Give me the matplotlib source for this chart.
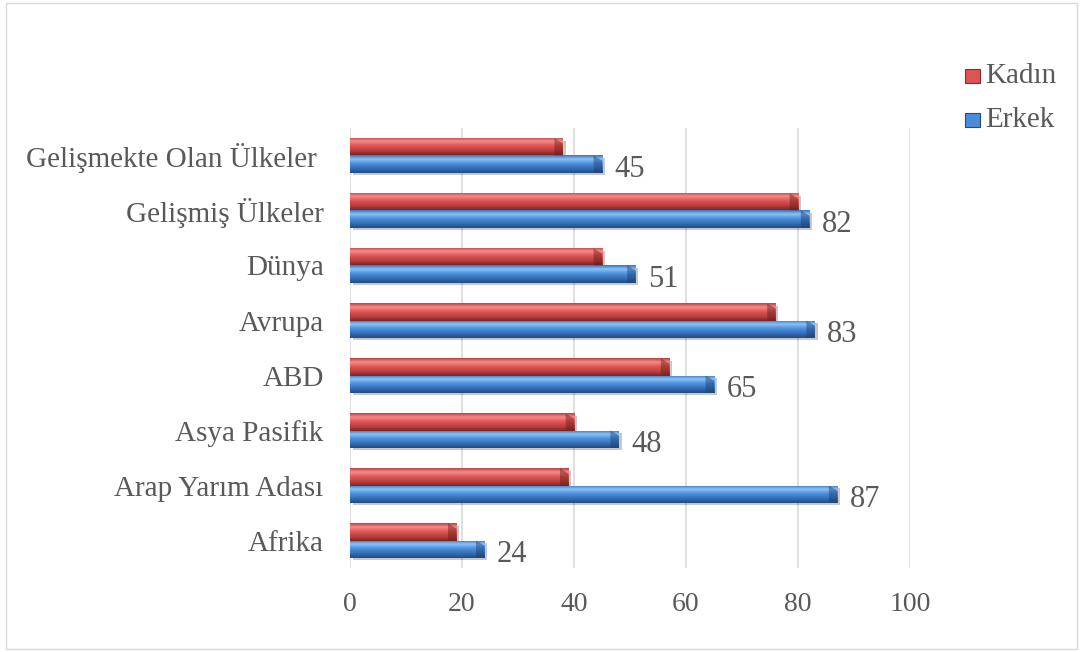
#!/usr/bin/env python3
import numpy as np
import matplotlib
matplotlib.use("Agg")
import matplotlib.pyplot as plt
import matplotlib.patheffects as pe
from matplotlib.colors import LinearSegmentedColormap
from matplotlib.patches import Rectangle, Polygon

# Bolgelere gore oranlar (asagidan yukariya)
categories = ["Afrika", "Arap Yarım Adası", "Asya Pasifik", "ABD", "Avrupa",
              "Dünya", "Gelişmiş Ülkeler", "Gelişmekte Olan Ülkeler "]
erkek = [24, 87, 48, 65, 83, 51, 82, 45]
kadin = [19, 39, 40, 57, 76, 45, 80, 38]
xticks = [0, 20, 40, 60, 80, 100]
series_names = ["Kadın", "Erkek"]

plt.rcParams["font.family"] = ["Liberation Serif", "DejaVu Serif"]
text_color = "#595959"

# top -> bottom shading of the cylinder-like bars
red_cmap = LinearSegmentedColormap.from_list(
    "red3d", [(0, "#b94341"), (0.22, "#f58c8a"), (0.45, "#e25a58"),
              (0.8, "#b13a38"), (1, "#7e2422")])
blue_cmap = LinearSegmentedColormap.from_list(
    "blue3d", [(0, "#3a75bd"), (0.22, "#8cc2f5"), (0.45, "#4f93e0"),
               (0.8, "#2f66ad"), (1, "#234c82")])
grad = np.linspace(0, 1, 64).reshape(-1, 1)


def draw_bars(ax, ys, values, cmap, base, dark, h):
    bars = ax.barh(ys, values, height=h, color=base, linewidth=0, zorder=2,
                   path_effects=[pe.SimplePatchShadow(offset=(2, -2), alpha=0.25),
                                 pe.Normal()])
    for bar, y, v in zip(bars, ys, values):
        im = ax.imshow(grad, cmap=cmap, aspect="auto", origin="upper",
                       extent=[0, v, y - h / 2, y + h / 2], zorder=3)
        im.set_clip_path(bar)
        # bevelled right end
        b = 1.5
        ax.add_patch(Polygon([[v - b, y + h / 2], [v, y + h * 0.2],
                              [v, y - h / 2], [v - b, y - h / 2]],
                             closed=True, facecolor=dark, alpha=0.45,
                             linewidth=0, zorder=4))
    return bars


fig = plt.figure(figsize=(10.83, 6.52), dpi=100)
ax = fig.add_axes([0.3232, 0.1288, 0.5171, 0.6749])

y = np.arange(len(categories))
h = 0.31
draw_bars(ax, y + h / 2, kadin, red_cmap, "#d9504e", "#6a1a18", h)
draw_bars(ax, y - h / 2, erkek, blue_cmap, "#4a8ad8", "#1a3d6e", h)

for yi, v in zip(y - h / 2, erkek):
    ax.text(v + 2.2, yi - 0.1, str(v), va="center", ha="left",
            fontsize=22, color=text_color)

ax.set_xlim(0, 100)
ax.set_ylim(-0.5, len(categories) - 0.5)
ax.set_xticks(xticks)
ax.set_yticks(y)
ax.set_yticklabels(categories)
ax.tick_params(axis="both", length=0, labelsize=21, labelcolor=text_color)
ax.tick_params(axis="x", labelsize=20, pad=17)
ax.tick_params(axis="y", pad=19)
ax.grid(axis="x", color="#d9d9d9", linewidth=1.2, zorder=0)
ax.set_axisbelow(True)
for s in ax.spines.values():
    s.set_visible(False)

# legend drawn by hand, squares with a light-to-dark fill
legend_items = [(series_names[0], red_cmap, "#8e2a28", 0.883),
                (series_names[1], blue_cmap, "#234c82", 0.816)]
for name, cmap, edge, fy in legend_items:
    sq = Rectangle((0.891, fy - 0.0107), 0.0135, 0.0215,
                   transform=fig.transFigure, facecolor=cmap(0.5),
                   edgecolor=edge, linewidth=0.8)
    fig.patches.append(sq)
    fig.text(0.9095, fy, name, fontsize=21, color=text_color,
             va="center", ha="left")

fig.patches.append(Rectangle((0.006, 0.004), 0.988, 0.992,
                             transform=fig.transFigure, fill=False,
                             edgecolor="#d9d9d9", linewidth=1))

fig.savefig("out.png", dpi=100)
